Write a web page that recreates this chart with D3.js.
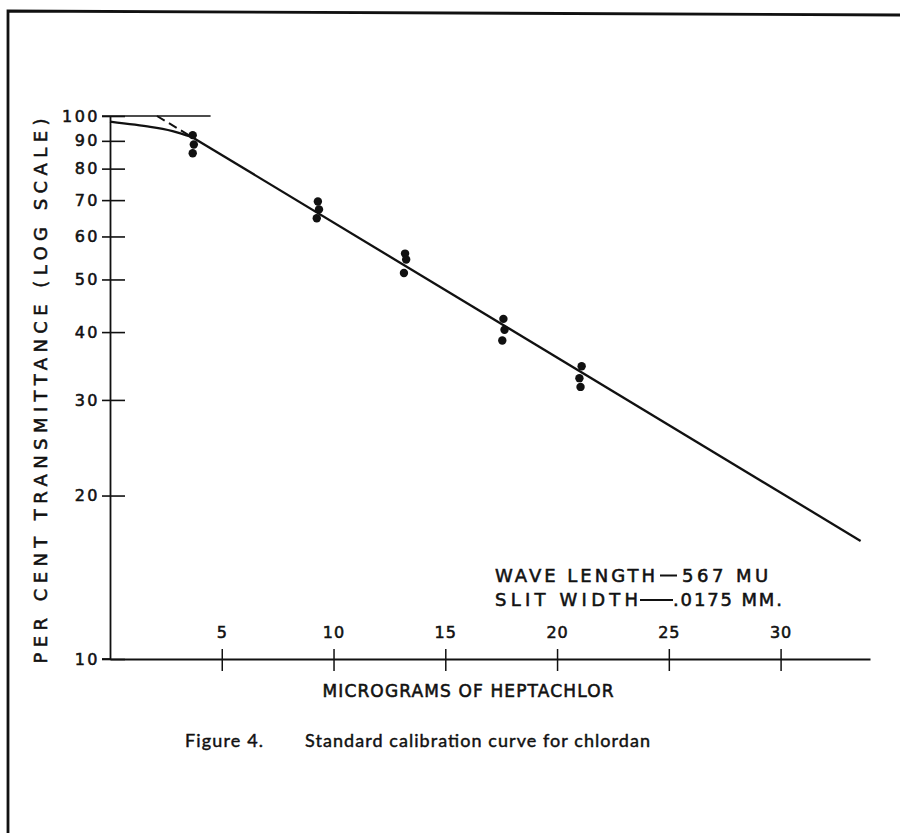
<!DOCTYPE html>
<html>
<head>
<meta charset="utf-8">
<script src="https://cdn.jsdelivr.net/npm/d3@7"></script>
<style>
  body { margin: 0; background: #fff; }
  text { fill: #111; }
  .letter { font-family: 'DejaVu Sans', sans-serif; stroke: #111; stroke-width: 0.55px; }
</style>
</head>
<body>
<div id="chart"></div>
<script>
// values
const yTicks = [10, 20, 30, 40, 50, 60, 70, 80, 90, 100];
const xTicks = [5, 10, 15, 20, 25, 30];
const pointX = [3.7, 3.75, 3.7, 9.3, 9.35, 9.25, 13.2, 13.25, 13.15, 17.6, 17.65, 17.55, 21.1, 21.0, 21.05];
const pointT = [92.2, 88.6, 85.4, 69.6, 67.3, 64.8, 55.8, 54.4, 51.4, 42.3, 40.4, 38.6, 34.6, 32.9, 31.7];
const curveX = [0.0, 1.8, 2.8, 3.66];
const curveT = [97.6, 95.5, 93.8, 91.5];
const fitX = [3.66, 33.58];
const fitT = [91.5, 16.5];
const dashX = [2.1, 3.66];
const dashT = [100, 91.5];
const topX = [0, 4.5];

const width = 900, height = 833;

let svg = d3.select("#chart")
    .append("svg")
    .attr("width", width)
    .attr("height", height);

let x = d3.scaleLinear()
    .domain([0, 34])
    .range([110, 870]);

let y = d3.scaleLog()
    .domain([10, 100])
    .range([659, 116]);

// page frame (scan edge)
svg.append("path")
    .attr("d", `M8,${height} L8,11 L${width},15`)
    .attr("fill", "none")
    .attr("stroke", "#111")
    .attr("stroke-width", 2.8);

// y axis
let yAxis = svg.append("g")
    .attr("transform", `translate(${x(0)},0)`)
    .call(d3.axisLeft(y).tickValues(yTicks).tickFormat(d3.format("d")).tickSize(0).tickPadding(10).tickSizeOuter(0));

yAxis.select(".domain").attr("stroke", "#111").attr("stroke-width", 1.8);
yAxis.selectAll(".tick line")
    .attr("x1", -8)
    .attr("x2", 15)
    .attr("stroke", "#111")
    .attr("stroke-width", 1.6);
yAxis.selectAll(".tick text")
    .attr("class", "letter")
    .style("font-size", "16px")
    .style("letter-spacing", "2.5px")
    .attr("fill", "#111");

// x axis
let xAxis = svg.append("g")
    .attr("transform", `translate(0,${y(10)})`)
    .call(d3.axisBottom(x).tickValues(xTicks).tickSize(0).tickSizeOuter(0));

xAxis.select(".domain").attr("stroke", "#111").attr("stroke-width", 1.8);
xAxis.selectAll(".tick line")
    .attr("y1", -10)
    .attr("y2", 12)
    .attr("stroke", "#111")
    .attr("stroke-width", 1.5);
xAxis.selectAll(".tick text")
    .attr("class", "letter")
    .attr("y", -21)
    .attr("dy", "0")
    .style("font-size", "16px")
    .style("letter-spacing", "1px")
    .attr("fill", "#111");

// short extension of the x axis to the left of the y axis
svg.append("line")
    .attr("x1", x(0) - 8)
    .attr("x2", x(0))
    .attr("y1", y(10))
    .attr("y2", y(10))
    .attr("stroke", "#111")
    .attr("stroke-width", 1.8);

// 100 % line
svg.append("line")
    .attr("x1", x(topX[0]) - 8)
    .attr("x2", x(topX[1]))
    .attr("y1", y(100))
    .attr("y2", y(100))
    .attr("stroke", "#111")
    .attr("stroke-width", 1.6);

let line = d3.line()
    .x(d => x(d[0]))
    .y(d => y(d[1]));

// curved part near 100 %
svg.append("path")
    .datum(d3.zip(curveX, curveT))
    .attr("d", line.curve(d3.curveNatural))
    .attr("fill", "none")
    .attr("stroke", "#111")
    .attr("stroke-width", 2.3);

// straight calibration line
svg.append("path")
    .datum(d3.zip(fitX, fitT))
    .attr("d", line.curve(d3.curveLinear))
    .attr("fill", "none")
    .attr("stroke", "#111")
    .attr("stroke-width", 2.3);

// dashed extrapolation
svg.append("path")
    .datum(d3.zip(dashX, dashT))
    .attr("d", line.curve(d3.curveLinear))
    .attr("fill", "none")
    .attr("stroke", "#111")
    .attr("stroke-width", 2)
    .attr("stroke-dasharray", "9,5");

// measured points
svg.selectAll("circle.pt")
    .data(d3.zip(pointX, pointT))
    .enter()
    .append("circle")
    .attr("class", "pt")
    .attr("cx", d => x(d[0]))
    .attr("cy", d => y(d[1]))
    .attr("r", 4.2)
    .attr("fill", "#111");

// axis titles
svg.append("text")
    .attr("class", "letter")
    .attr("transform", `translate(47, 391)rotate(-90)`)
    .style("text-anchor", "middle")
    .style("font-size", "18px")
    .attr("textLength", 545)
    .attr("lengthAdjust", "spacing")
    .text("PER CENT TRANSMITTANCE (LOG SCALE)");

svg.append("text")
    .attr("class", "letter")
    .attr("x", 468)
    .attr("y", 697)
    .style("text-anchor", "middle")
    .style("font-size", "17px")
    .attr("textLength", 291)
    .attr("lengthAdjust", "spacing")
    .text("MICROGRAMS OF HEPTACHLOR");

// instrument settings, dashes drawn as rules like the lettering set
let note = svg.append("g");

note.append("text").attr("class", "letter")
    .attr("x", 495).attr("y", 582)
    .style("font-size", "18px")
    .attr("textLength", 160).attr("lengthAdjust", "spacing")
    .text("WAVE LENGTH");
note.append("line")
    .attr("x1", 660).attr("x2", 677).attr("y1", 575.5).attr("y2", 575.5)
    .attr("stroke", "#111").attr("stroke-width", 2);
note.append("text").attr("class", "letter")
    .attr("x", 682).attr("y", 582)
    .style("font-size", "18px")
    .style("letter-spacing", "3.5px")
    .text("567 MU");

note.append("text").attr("class", "letter")
    .attr("x", 495).attr("y", 606)
    .style("font-size", "18px")
    .attr("textLength", 143).attr("lengthAdjust", "spacing")
    .text("SLIT WIDTH");
note.append("line")
    .attr("x1", 640).attr("x2", 673).attr("y1", 600).attr("y2", 600)
    .attr("stroke", "#111").attr("stroke-width", 2);
note.append("text").attr("class", "letter")
    .attr("x", 673).attr("y", 606)
    .style("font-size", "18px")
    .attr("textLength", 109).attr("lengthAdjust", "spacing")
    .text(".0175 MM.");

// caption
svg.append("text")
    .attr("x", 185)
    .attr("y", 747)
    .style("font-family", "Lato, 'Open Sans', sans-serif")
    .style("font-size", "18px")
    .style("stroke", "#111")
    .style("stroke-width", "0.45px")
    .attr("textLength", 78)
    .attr("lengthAdjust", "spacing")
    .text("Figure 4.");

svg.append("text")
    .attr("x", 305)
    .attr("y", 747)
    .style("font-family", "Lato, 'Open Sans', sans-serif")
    .style("font-size", "18px")
    .style("stroke", "#111")
    .style("stroke-width", "0.45px")
    .attr("textLength", 345)
    .attr("lengthAdjust", "spacing")
    .text("Standard calibration curve for chlordan");
</script>
</body>
</html>
